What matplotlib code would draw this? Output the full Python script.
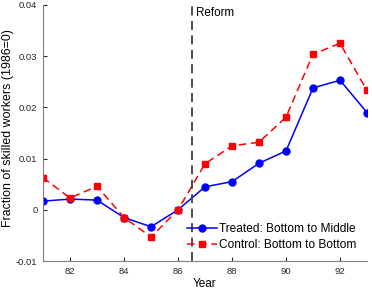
import numpy as np
import matplotlib
matplotlib.use("Agg")
import matplotlib.pyplot as plt

plt.rcParams['font.family'] = ['Liberation Sans', 'DejaVu Sans']

# values
years = [81, 82, 83, 84, 85, 86, 87, 88, 89, 90, 91, 92, 93]
treated = [0.0017, 0.0021, 0.0019, -0.0015, -0.0033, 0.0, 0.0045, 0.0055,
           0.0091, 0.0115, 0.0238, 0.0253, 0.0190]
control = [0.0063, 0.0023, 0.0046, -0.0015, -0.0053, 0.0, 0.0090, 0.0125,
           0.0132, 0.0181, 0.0304, 0.0325, 0.0233]
reform_year = 86.5
xticks = [82, 84, 86, 88, 90, 92]
yticks = [-0.01, 0, 0.01, 0.02, 0.03, 0.04]
ytick_labels = ['-0.01', '0', '0.01', '0.02', '0.03', '0.04']

fig = plt.figure(figsize=(3.72, 2.92), dpi=100)
ax = fig.add_axes([0.1156, 0.106, 0.871, 0.877])

ax.plot(years, treated, '-o', color='#0000ff', lw=1.1, ms=5,
        label='Treated: Bottom to Middle')
ax.plot(years, control, '--s', color='#ff0000', lw=1.1, ms=5,
        dashes=(5, 3), label='Control: Bottom to Bottom')
ax.axvline(reform_year, color='#404040', ls='--', lw=1.3, dashes=(5, 3))
ax.text(reform_year + 0.15, 0.0396, 'Reform', fontsize=8.4, va='top', ha='left')

ax.set_xlim(81, 93)
ax.set_ylim(-0.01, 0.04)
ax.set_xticks(xticks)
ax.set_yticks(yticks)
ax.set_yticklabels(ytick_labels)
ax.tick_params(direction='in', length=3, labelsize=6.8, colors='#262626', pad=4)
for s in ['top', 'right']:
    ax.spines[s].set_visible(False)
for s in ['left', 'bottom']:
    ax.spines[s].set_color('#808080')
ax.set_xlabel('Year', fontsize=8.5)
ax.set_ylabel('Fraction of skilled workers (1986=0)', fontsize=8.9)
ax.xaxis.set_label_coords(0.5, -0.068)
ax.yaxis.set_label_coords(-0.09, 0.518)

ax.legend(loc='lower right', frameon=False, prop={'size': 8.6}, handlelength=2.5,
          borderaxespad=0.45, labelspacing=0.35, handletextpad=0.25)

fig.savefig('out.png', dpi=100)
